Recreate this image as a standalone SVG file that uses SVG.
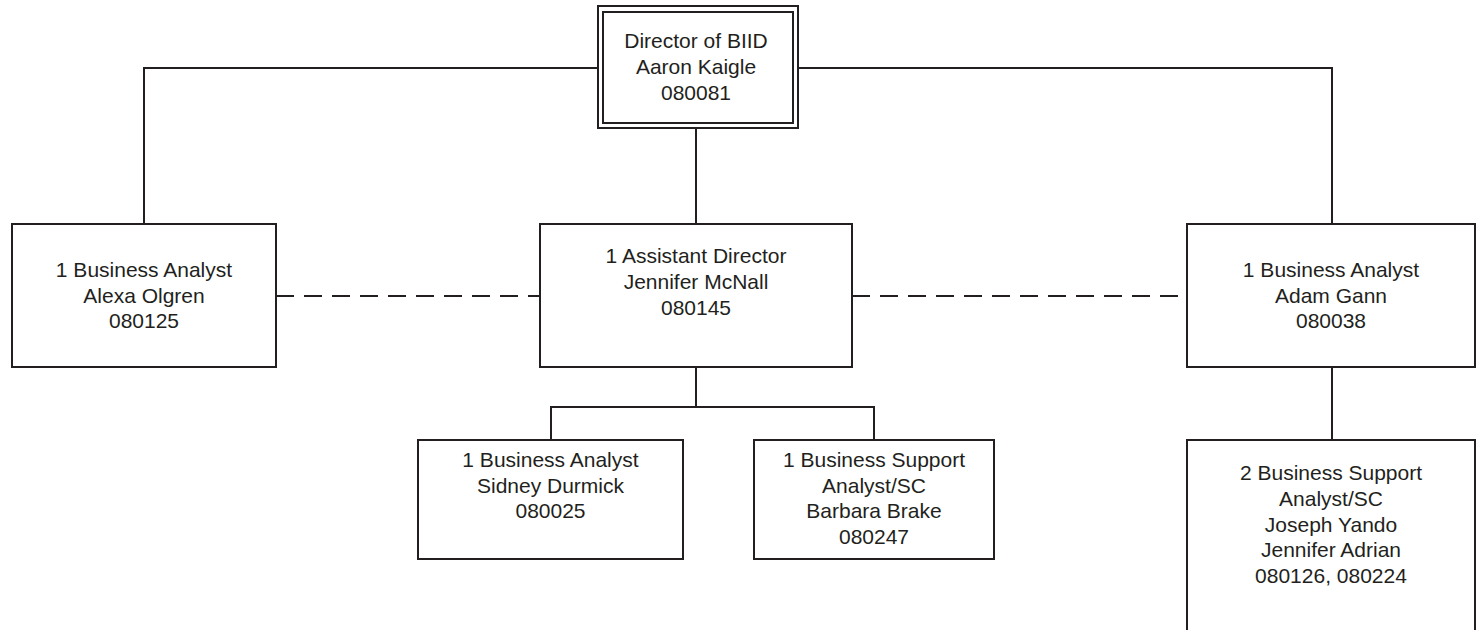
<svg xmlns="http://www.w3.org/2000/svg" width="1476" height="630" viewBox="0 0 1476 630">
<style>
.box{fill:#fff;stroke:#231f20;stroke-width:2}
.ln{fill:none;stroke:#231f20;stroke-width:2}
.dash{fill:none;stroke:#231f20;stroke-width:2;stroke-dasharray:18 10}
text{font-family:"Liberation Sans",Arial,sans-serif;font-size:21px;fill:#231f20;text-anchor:middle}
</style>
<rect width="1476" height="630" fill="#fff"/>
<g id="connectors">
<polyline class="ln" points="144,224 144,68 598,68"/>
<polyline class="ln" points="798,68 1332,68 1332,224"/>
<line class="ln" x1="696" y1="128" x2="696" y2="224"/>
<line class="dash" x1="276" y1="296" x2="540" y2="296"/>
<line class="dash" x1="852" y1="296" x2="1187" y2="296"/>
<line class="ln" x1="696" y1="367" x2="696" y2="407"/>
<polyline class="ln" points="551,440 551,407 874,407 874,440"/>
<line class="ln" x1="1332" y1="367" x2="1332" y2="440"/>
</g>
<g id="director">
<rect class="box" x="598" y="6" width="200" height="122"/>
<rect class="ln" x="603" y="12" width="190" height="111"/>
<text x="696" y="48">Director of BIID</text>
<text x="696" y="74">Aaron Kaigle</text>
<text x="696" y="100">080081</text>
</g>
<g id="ba-alexa">
<rect class="box" x="12" y="224" width="264" height="143"/>
<text x="144" y="277">1 Business Analyst</text>
<text x="144" y="303">Alexa Olgren</text>
<text x="144" y="328">080125</text>
</g>
<g id="assistant-director">
<rect class="box" x="540" y="224" width="312" height="143"/>
<text x="696" y="263">1 Assistant Director</text>
<text x="696" y="289">Jennifer McNall</text>
<text x="696" y="315">080145</text>
</g>
<g id="ba-adam">
<rect class="box" x="1187" y="224" width="288" height="143"/>
<text x="1331" y="277">1 Business Analyst</text>
<text x="1331" y="303">Adam Gann</text>
<text x="1331" y="328">080038</text>
</g>
<g id="ba-sidney">
<rect class="box" x="418" y="440" width="265" height="119"/>
<text x="550.5" y="467">1 Business Analyst</text>
<text x="550.5" y="493">Sidney Durmick</text>
<text x="550.5" y="518">080025</text>
</g>
<g id="bsa-barbara">
<rect class="box" x="754" y="440" width="240" height="119"/>
<text x="874" y="467">1 Business Support</text>
<text x="874" y="493">Analyst/SC</text>
<text x="874" y="518">Barbara Brake</text>
<text x="874" y="544">080247</text>
</g>
<g id="bsa-joseph-jennifer">
<polyline class="box" points="1187,640 1187,440 1475,440 1475,640"/>
<text x="1331" y="480">2 Business Support</text>
<text x="1331" y="506">Analyst/SC</text>
<text x="1331" y="532">Joseph Yando</text>
<text x="1331" y="557">Jennifer Adrian</text>
<text x="1331" y="583">080126, 080224</text>
</g>
</svg>
